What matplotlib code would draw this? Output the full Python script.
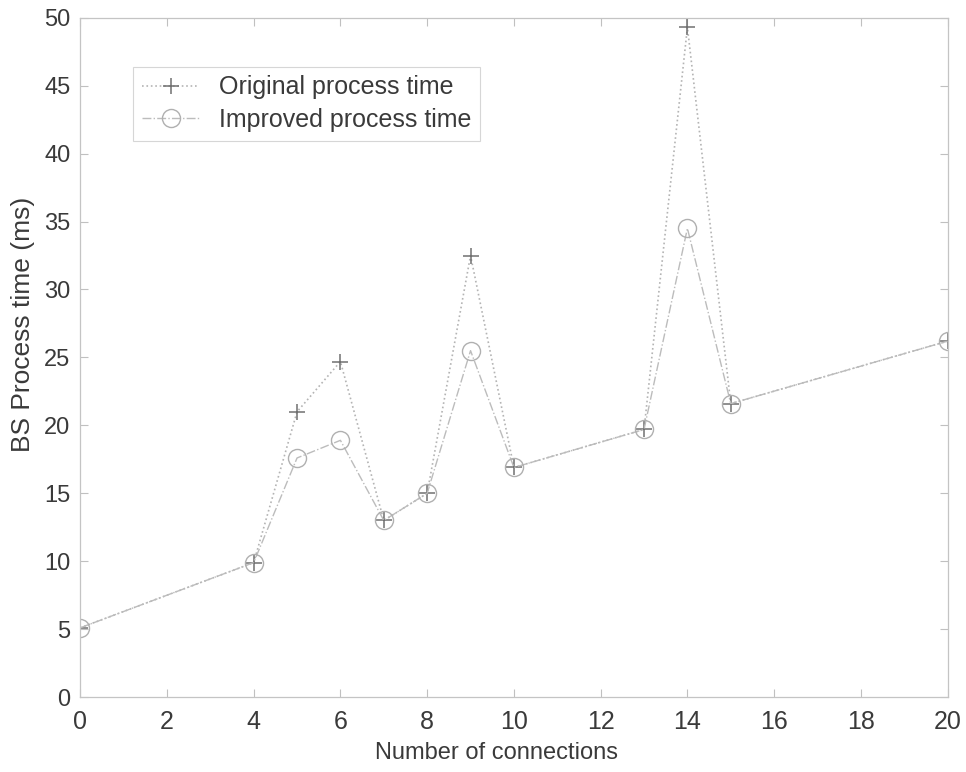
import matplotlib
matplotlib.use("Agg")
from matplotlib import pyplot as plt

# data
connections = [0, 4, 5, 6, 7, 8, 9, 10, 13, 14, 15, 20]
original_time = [5.1, 9.9, 21.0, 24.7, 13.0, 15.0, 32.5, 16.9, 19.7, 49.3, 21.6, 26.2]
improved_time = [5.1, 9.9, 17.6, 18.9, 13.0, 15.0, 25.5, 16.9, 19.7, 34.5, 21.6, 26.2]

x_ticks = list(range(0, 21, 2))
y_ticks = list(range(0, 51, 5))

plt.rcParams['font.family'] = ['Liberation Sans', 'DejaVu Sans']
text_col = '#3a3a3a'

fig = plt.figure(figsize=(9.66, 7.72), dpi=100)
ax = fig.add_axes([0.083, 0.097, 0.898, 0.88])

ax.plot(connections, original_time, linestyle=':', color='#b4b4b4', linewidth=1.2,
        marker='+', markersize=12, markeredgewidth=1.1, markeredgecolor='#707070',
        label='Original process time')
ax.plot(connections, improved_time, linestyle='-.', color='#bcbcbc', linewidth=1.0,
        marker='o', markersize=13, markerfacecolor='none', markeredgewidth=1.0,
        markeredgecolor='#b0b0b0', label='Improved process time')

ax.set_xlim(0, 20)
ax.set_ylim(0, 50)
ax.set_xticks(x_ticks)
ax.set_yticks(y_ticks)
ax.tick_params(direction='in', length=6, colors='#c0c0c0', labelcolor=text_col,
               top=True, right=True)
ax.tick_params(axis='x', pad=9, labelsize=18)
ax.tick_params(axis='y', pad=7, labelsize=17)
for s in ax.spines.values():
    s.set_color('#c4c4c4')
    s.set_linewidth(0.9)

ax.set_xlabel('Number of connections', fontsize=17, color=text_col)
ax.xaxis.set_label_coords(0.48, -0.066)
ax.set_ylabel('BS Process time (ms)', fontsize=19, color=text_col)
ax.yaxis.set_label_coords(-0.052, 0.548)

leg = ax.legend(loc='upper left', bbox_to_anchor=(0.061, 0.928), fontsize=18,
                frameon=True, fancybox=False, handlelength=2.3, borderpad=0.35,
                labelspacing=0.35, handletextpad=0.8, borderaxespad=0)
leg.get_frame().set_edgecolor('#cccccc')
leg.get_frame().set_linewidth(0.8)
for t in leg.get_texts():
    t.set_color(text_col)

fig.savefig('out.png', dpi=100)
